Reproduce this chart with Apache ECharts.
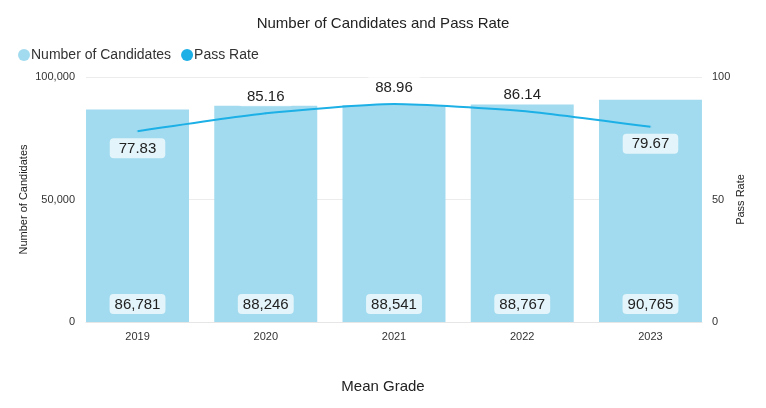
<!DOCTYPE html>
<html>
<head>
<meta charset="utf-8">
<script src="https://cdn.jsdelivr.net/npm/echarts@6/dist/echarts.min.js"></script>
<style>
  html, body { margin: 0; padding: 0; background: #fff; }
  #chart { width: 766px; height: 408px; }
</style>
</head>
<body>
<div id="chart"></div>
<script>
// data
const years = ["2019", "2020", "2021", "2022", "2023"];
const candidates = [86781, 88246, 88541, 88767, 90765];
const passRate = [77.83, 85.16, 88.96, 86.14, 79.67];
// where each pass-rate label sits relative to its point
const rateLabelPos = ["bottom", "top", "top", "top", "bottom"];

const font = "Liberation Sans, Arial, sans-serif";
const barColor = "#a2dbef";
const lineColor = "#1cb0e6";

const chart = echarts.init(document.getElementById("chart"));

const option = {
  textStyle: { fontFamily: font },
  title: [
    {
      text: "Number of Candidates and Pass Rate",
      left: "center",
      top: 11,
      textStyle: { fontSize: 15, fontWeight: "normal", color: "#222", fontFamily: font }
    },
    {
      text: "Mean Grade",
      left: "center",
      top: 374,
      textStyle: { fontSize: 15, fontWeight: "normal", color: "#222", fontFamily: font }
    }
  ],
  legend: {
    left: 13,
    top: 43,
    icon: "circle",
    itemWidth: 12,
    itemHeight: 12,
    itemGap: 10,
    textStyle: { fontSize: 14, color: "#333", fontFamily: font, padding: [0, 0, 0, -4] },
    data: [
      { name: "Number of Candidates", itemStyle: { color: barColor } },
      { name: "Pass Rate", itemStyle: { color: lineColor } }
    ]
  },
  // grid 0 carries gridlines / y labels, grid 1 carries the marks
  grid: [
    { left: 86, right: 64, top: 77, bottom: 86 },
    { left: 73.4, right: 51.4, top: 77, bottom: 86 }
  ],
  xAxis: [
    {
      type: "category",
      gridIndex: 0,
      data: years,
      axisLine: { lineStyle: { color: "#e6e6e6" } },
      axisTick: { show: false },
      axisLabel: { show: false }
    },
    {
      type: "category",
      gridIndex: 1,
      data: years,
      axisLine: { show: false },
      axisTick: { show: false },
      axisLabel: { fontSize: 11, color: "#333", margin: 9, fontFamily: font }
    }
  ],
  yAxis: [
    {
      type: "value",
      gridIndex: 0,
      min: 0,
      max: 100000,
      interval: 50000,
      name: "Number of Candidates",
      nameLocation: "middle",
      nameGap: 57,
      nameMoveOverlap: false,
      nameTextStyle: { fontSize: 11, color: "#222", fontFamily: font },
      axisLabel: {
        fontSize: 11,
        color: "#333",
        margin: 11,
        fontFamily: font,
        formatter: v => v.toLocaleString("en-US")
      },
      splitLine: { lineStyle: { color: "#ececec" } }
    },
    {
      type: "value",
      gridIndex: 0,
      min: 0,
      max: 100,
      interval: 50,
      name: "Pass Rate",
      nameLocation: "middle",
      nameGap: 33,
      nameMoveOverlap: false,
      nameTextStyle: { fontSize: 11, color: "#222", fontFamily: font },
      axisLabel: { fontSize: 11, color: "#333", margin: 10, fontFamily: font },
      splitLine: { show: false }
    },
    { type: "value", gridIndex: 1, min: 0, max: 100000, show: false },
    { type: "value", gridIndex: 1, min: 0, max: 100, show: false }
  ],
  series: [
    {
      name: "Number of Candidates",
      type: "bar",
      xAxisIndex: 1,
      yAxisIndex: 2,
      data: candidates,
      barWidth: "80.3%",
      itemStyle: { color: barColor },
      label: {
        show: true,
        position: "insideBottom",
        distance: 8,
        fontSize: 15,
        color: "#222",
        fontFamily: font,
        backgroundColor: "rgba(255,255,255,0.7)",
        borderRadius: 4,
        padding: [3, 5, 2, 5],
        formatter: p => p.value.toLocaleString("en-US")
      },
      z: 2
    },
    {
      name: "Pass Rate",
      type: "line",
      xAxisIndex: 1,
      yAxisIndex: 3,
      smooth: 0.2,
      showSymbol: true,
      symbolSize: 0.1,
      data: passRate.map((v, i) => ({
        value: v,
        label: { position: rateLabelPos[i] }
      })),
      lineStyle: { color: lineColor, width: 2 },
      itemStyle: { color: lineColor },
      label: {
        show: true,
        distance: 6,
        fontSize: 15,
        color: "#222",
        fontFamily: font,
        backgroundColor: "rgba(255,255,255,0.7)",
        borderRadius: 4,
        padding: [3, 9, 2, 9]
      },
      z: 3
    }
  ]
};

chart.setOption(option);
</script>
</body>
</html>
